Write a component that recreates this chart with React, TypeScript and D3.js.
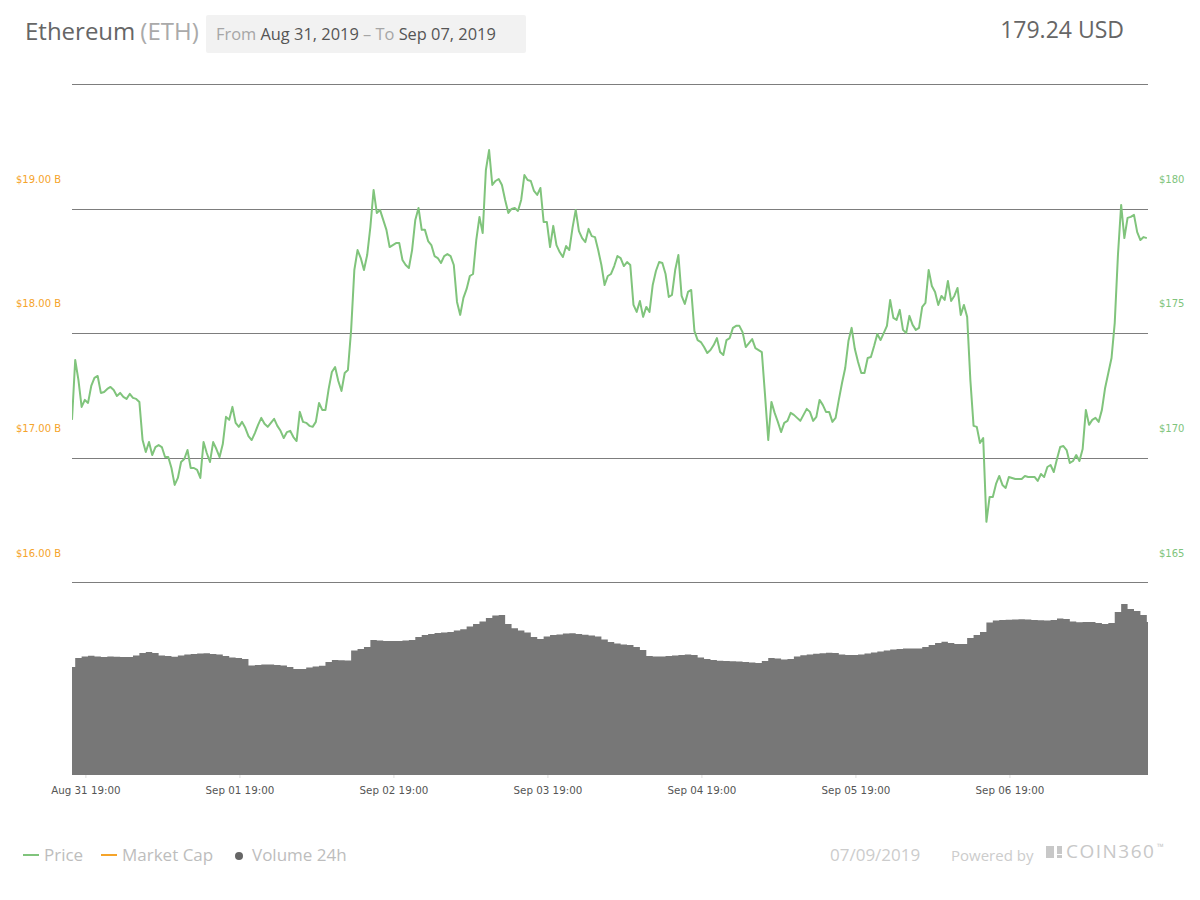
import React from "react";
import * as d3 from "d3";

// ---- data ----
// Ethereum price in USD, one value every 30 minutes starting Aug 31 2019 16:50
const priceValues: number[] = [
  170.34, 172.74, 171.94, 170.86, 171.14, 171.02, 171.70, 172.02, 172.10, 171.42,
  171.46, 171.58, 171.66, 171.54, 171.30, 171.42, 171.26, 171.18, 171.38, 171.22,
  171.18, 171.06, 169.53, 169.05, 169.45, 168.93, 169.25, 169.33, 169.25, 168.85,
  168.85, 168.41, 167.73, 168.01, 168.65, 168.77, 169.13, 168.41, 168.41, 168.33,
  168.01, 169.45, 169.01, 168.65, 169.45, 169.17, 168.85, 169.37, 170.46, 170.34,
  170.86, 170.22, 170.06, 170.26, 170.02, 169.69, 169.53, 169.81, 170.14, 170.42,
  170.18, 170.06, 170.22, 170.38, 170.10, 169.90, 169.61, 169.85, 169.90, 169.65,
  169.49, 170.66, 170.26, 170.22, 170.10, 170.06, 170.26, 171.02, 170.74, 170.74,
  171.58, 172.26, 172.46, 171.90, 171.50, 172.22, 172.34, 173.95, 176.35, 177.15,
  176.83, 176.35, 176.95, 178.08, 179.56, 178.64, 178.76, 178.36, 177.96, 177.27,
  177.35, 177.43, 177.43, 176.75, 176.55, 176.43, 177.15, 178.36, 178.84, 177.96,
  177.96, 177.51, 177.35, 176.91, 176.83, 176.63, 176.91, 176.99, 176.91, 176.55,
  175.07, 174.55, 175.23, 175.59, 176.11, 176.19, 177.55, 178.48, 177.83, 180.36,
  181.16, 179.76, 179.92, 180.00, 179.76, 179.16, 178.64, 178.80, 178.84, 178.72,
  179.16, 180.16, 179.96, 179.92, 179.52, 179.36, 179.64, 178.28, 178.28, 177.27,
  178.12, 177.35, 177.07, 176.87, 177.31, 177.15, 178.04, 178.76, 177.91, 177.63,
  177.47, 178.00, 177.71, 177.67, 177.15, 176.55, 175.75, 176.11, 176.19, 176.51,
  176.91, 176.83, 176.51, 176.67, 176.55, 174.95, 174.67, 175.11, 174.47, 174.87,
  174.67, 175.75, 176.31, 176.67, 176.63, 176.19, 175.27, 175.35, 176.35, 176.95,
  175.31, 174.99, 175.47, 175.55, 173.90, 173.54, 173.46, 173.26, 173.02, 173.14,
  173.34, 173.62, 173.06, 172.94, 173.54, 173.62, 174.03, 174.11, 174.11, 173.86,
  173.26, 173.42, 173.58, 173.22, 173.14, 173.06, 171.34, 169.53, 171.06, 170.62,
  170.26, 169.85, 170.22, 170.30, 170.62, 170.54, 170.42, 170.30, 170.54, 170.78,
  170.66, 170.30, 170.46, 171.14, 170.94, 170.66, 170.66, 170.26, 170.42, 171.14,
  171.82, 172.42, 173.50, 174.03, 173.18, 172.66, 172.22, 172.22, 172.82, 172.86,
  173.30, 173.78, 173.54, 173.82, 174.11, 175.15, 174.43, 174.35, 174.75, 173.95,
  173.82, 174.51, 174.15, 173.95, 174.03, 174.87, 175.03, 176.35, 175.71, 175.47,
  174.95, 175.31, 175.15, 175.91, 175.11, 175.31, 175.63, 174.55, 174.95, 174.47,
  171.94, 170.10, 170.06, 169.41, 169.61, 166.25, 167.25, 167.25, 167.77, 168.09,
  167.73, 167.61, 168.05, 168.01, 167.97, 167.97, 167.97, 168.09, 168.05, 168.05,
  168.05, 167.89, 168.17, 168.05, 168.45, 168.53, 168.25, 168.77, 169.25, 169.29,
  169.13, 168.61, 168.69, 168.93, 168.69, 169.17, 170.74, 170.14, 170.34, 170.42,
  170.26, 170.74, 171.62, 172.22, 172.82, 174.23, 176.95, 178.96, 177.63, 178.44,
  178.48, 178.56, 177.87, 177.55, 177.67, 177.63,
];

// 24h volume in billions USD, one value every hour starting Aug 31 2019 16:50
const volumeValues: number[] = [
  5.60, 6.06, 6.14, 6.18, 6.14, 6.11, 6.14, 6.13, 6.11, 6.11,
  6.19, 6.32, 6.37, 6.32, 6.19, 6.17, 6.13, 6.19, 6.24, 6.27,
  6.30, 6.31, 6.27, 6.25, 6.17, 6.09, 6.06, 6.01, 5.68, 5.70,
  5.73, 5.73, 5.70, 5.68, 5.60, 5.49, 5.49, 5.57, 5.62, 5.66,
  5.85, 5.96, 5.94, 5.93, 6.45, 6.53, 6.63, 6.99, 6.97, 6.94,
  6.94, 6.94, 6.97, 6.99, 7.15, 7.25, 7.31, 7.36, 7.38, 7.41,
  7.49, 7.55, 7.69, 7.82, 7.95, 8.13, 8.26, 8.29, 7.82, 7.60,
  7.49, 7.38, 7.15, 7.05, 7.18, 7.25, 7.28, 7.33, 7.34, 7.31,
  7.27, 7.23, 7.18, 7.02, 6.89, 6.81, 6.76, 6.74, 6.63, 6.48,
  6.17, 6.14, 6.14, 6.17, 6.19, 6.22, 6.25, 6.22, 6.09, 6.01,
  5.96, 5.92, 5.91, 5.89, 5.88, 5.85, 5.83, 5.80, 5.91, 6.06,
  6.04, 5.99, 6.01, 6.14, 6.20, 6.24, 6.28, 6.31, 6.33, 6.32,
  6.24, 6.22, 6.22, 6.24, 6.30, 6.35, 6.40, 6.45, 6.50, 6.53,
  6.56, 6.55, 6.55, 6.63, 6.74, 6.84, 6.91, 6.84, 6.79, 6.79,
  7.10, 7.25, 7.41, 7.90, 8.01, 8.03, 8.05, 8.06, 8.07, 8.06,
  8.03, 8.02, 8.01, 8.03, 8.11, 8.08, 7.95, 7.91, 7.93, 7.93,
  7.88, 7.82, 7.88, 8.45, 8.86, 8.60, 8.50, 8.29, 7.93,
];

const priceTicks = [165, 170, 175, 180];
const marketCapTicks = [16, 17, 18, 19]; // billions USD
const gridSteps = [0, 1, 2, 3, 4];
const xTickDays = [0, 1, 2, 3, 4, 5, 6];

const coinName = "Ethereum";
const coinSymbol = "(ETH)";
const fromLabel = "Aug 31, 2019";
const toLabel = "Sep 07, 2019";
const currentPrice = "179.24 USD";
const footerDate = "07/09/2019";

// ---- time ----
const startDate = new Date(2019, 7, 31, 16, 50);
const endDate = new Date(2019, 8, 7, 16, 31);
const MIN = 60 * 1000;
const priceDates = priceValues.map((_, i) => new Date(startDate.getTime() + i * 30 * MIN));
const volumeDates = volumeValues.map((_, i) => new Date(startDate.getTime() + i * 60 * MIN));
const xTickDates = xTickDays.map((d) => new Date(2019, 7, 31 + d, 19, 0));

const W = 1200;
const H = 900;
const plotLeft = 72;
const plotRight = 1148;
const panelTop = 84;
const panelBottom = 582;
const volBottom = 775;

const GREEN = "#80c47c";
const ORANGE = "#f5a42a";
const GRID = "#7d7d7d";
const VOL = "#777777";

export default function App() {
  const x = d3.scaleTime().domain([startDate, endDate]).range([plotLeft, plotRight]);
  const yPrice = d3.scaleLinear().domain([165, 180]).range([553, 179]);
  const yCap = d3.scaleLinear().domain([16, 19]).range([553, 179]);
  const yGrid = d3.scaleLinear().domain([0, 4]).range([panelBottom, panelTop]);
  const yVol = d3.scaleLinear().domain([0, 10]).range([volBottom, panelBottom]);
  const fmt = d3.timeFormat("%b %d %H:%M");

  const priceLine = d3
    .line<number>()
    .x((_, i) => x(priceDates[i]))
    .y((d) => yPrice(d))
    .curve(d3.curveLinear)(priceValues) as string;

  const volArea = d3
    .area<number>()
    .x((_, i) => x(volumeDates[i]))
    .y0(yVol(0))
    .y1((d) => yVol(d))
    .curve(d3.curveStep)(volumeValues) as string;

  const sans = "'Open Sans', 'Noto Sans', sans-serif";
  const dv = "'DejaVu Sans', sans-serif";

  return (
    <svg
      width={W}
      height={H}
      viewBox={`0 0 ${W} ${H}`}
      style={{ position: "absolute", left: 0, top: 0, background: "#fff" }}
    >
      <defs>
        <clipPath id="plotClip">
          <rect x={plotLeft} y={panelTop} width={plotRight - plotLeft} height={volBottom - panelTop} />
        </clipPath>
      </defs>

      {/* header */}
      <text x={25} y={40} fontFamily={sans} fontSize={24} fill="#666">
        {coinName}
        <tspan fill="#aaa" dx={5}>{coinSymbol}</tspan>
      </text>
      <rect x={206} y={15} width={320} height={38} rx={2} fill="#f2f2f2" />
      <text x={216} y={40} fontFamily={sans} fontSize={16.4} fill="#a6a6a6">
        From <tspan fill="#555">{fromLabel}</tspan> – To <tspan fill="#555">{toLabel}</tspan>
      </text>
      <text x={1124} y={38} fontFamily={sans} fontSize={23} fill="#666" textAnchor="end">
        {currentPrice}
      </text>

      {/* grid lines */}
      {gridSteps.map((g) => (
        <line
          key={g}
          x1={plotLeft}
          x2={plotRight}
          y1={Math.round(yGrid(g)) + 0.5}
          y2={Math.round(yGrid(g)) + 0.5}
          stroke={GRID}
          strokeWidth={1}
        />
      ))}

      {/* left axis: market cap */}
      {marketCapTicks.map((t) => (
        <text key={t} x={16} y={yCap(t)} dy="0.35em" fontFamily={dv} fontSize={10} fill={ORANGE}>
          {`$${t.toFixed(2)} B`}
        </text>
      ))}

      {/* right axis: price */}
      {priceTicks.map((t) => (
        <text key={t} x={1159} y={yPrice(t)} dy="0.35em" fontFamily={dv} fontSize={10} fill={GREEN}>
          {`$${t}`}
        </text>
      ))}

      {/* volume */}
      <g clipPath="url(#plotClip)">
        <path d={volArea} fill={VOL} />
      </g>

      {/* price line */}
      <g clipPath="url(#plotClip)">
        <path d={priceLine} fill="none" stroke={GREEN} strokeWidth={2} strokeLinejoin="round" />
      </g>

      {/* x axis */}
      {xTickDates.map((d, i) => (
        <g key={i} transform={`translate(${x(d)},0)`}>
          <line y1={volBottom} y2={volBottom + 3} stroke="#ddd" />
          <text y={794} textAnchor="middle" fontFamily={dv} fontSize={10.3} fill="#555">
            {fmt(d)}
          </text>
        </g>
      ))}

      {/* legend */}
      <line x1={23} x2={39} y1={855} y2={855} stroke={GREEN} strokeWidth={2} />
      <text x={44} y={861} fontFamily={sans} fontSize={17} fill="#bdbdbd">Price</text>
      <line x1={101} x2={117} y1={855} y2={855} stroke={ORANGE} strokeWidth={2} />
      <text x={122} y={861} fontFamily={sans} fontSize={17} fill="#bdbdbd">Market Cap</text>
      <circle cx={239} cy={856} r={4} fill="#666" />
      <text x={252} y={861} fontFamily={sans} fontSize={17} fill="#bdbdbd">Volume 24h</text>

      {/* footer */}
      <text x={830} y={861} fontFamily={sans} fontSize={17} fill="#cccccc">{footerDate}</text>
      <text x={951} y={861} fontFamily={sans} fontSize={15} fill="#cccccc">Powered by</text>
      <rect x={1046} y={846} width={8} height={12} fill="#c8c8c8" />
      <rect x={1057} y={846} width={5} height={8} fill="#c8c8c8" />
      <rect x={1057} y={855} width={5} height={3} fill="#c8c8c8" />
      <text x={1066} y={858} fontFamily={sans} fontSize={19} letterSpacing={1.5} fill="#c8c8c8">
        COIN360
      </text>
      <text x={1157} y={850} fontFamily={sans} fontSize={9} fill="#c8c8c8">™</text>
    </svg>
  );
}
